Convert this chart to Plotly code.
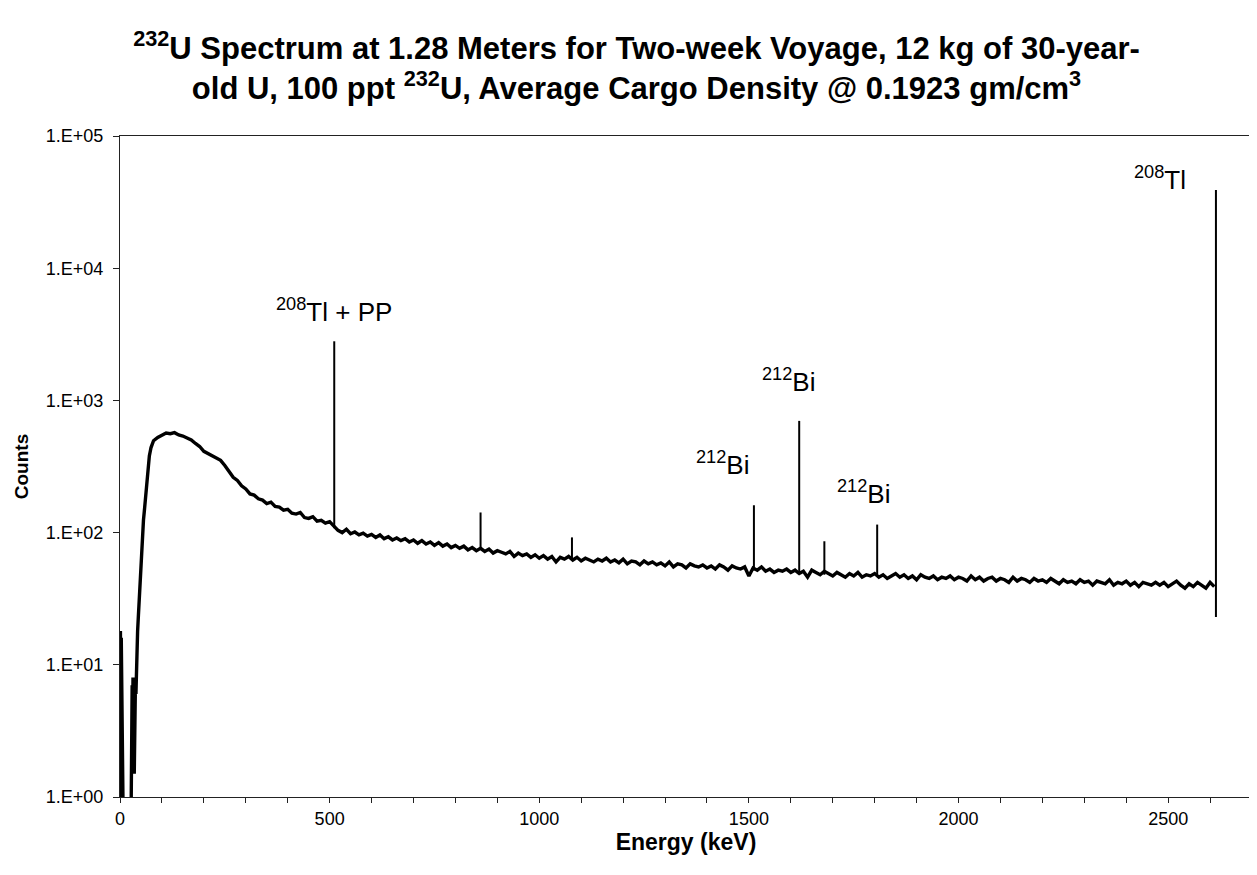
import math
import plotly.graph_objects as go

# ---- data ----
# low-energy part (keV, counts)
low_energy = [0, 1, 2, 3, 4, 5, 6, 7, 8, 26, 27, 28, 29, 30, 31, 32, 33, 34, 35, 36, 37,
              38, 39, 40, 42, 44, 46, 48, 50, 52, 54, 56, 58, 60, 63, 66, 70, 74, 77]
low_counts = [0.5, 18, 5, 16, 3, 12, 0.5, 0.5, 0.5, 0.5, 6, 2, 7, 3, 8, 2, 7, 1.5, 8, 4, 8,
              6, 9, 12, 18, 24, 32, 45, 65, 85, 105, 125, 145, 168, 220, 290, 380, 440, 470]

# continuum from 80 keV to 2610 keV, one reading every 10 keV
cont_start = 80
cont_step = 10
cont_counts = [
    495, 525, 548, 566, 560, 570, 548, 538, 520, 502,
    472, 448, 412, 396, 382, 370, 352, 322, 292, 262,
    248, 226, 214, 196, 192, 180, 176, 166, 170, 158,
    156, 148, 150, 140, 138, 142, 130, 128, 132, 122,
    124, 118, 121, 112, 104, 100, 106, 98, 101, 96,
    99, 94, 97, 92, 96, 90, 93, 88, 91, 87,
    90, 85, 88, 83, 87, 82, 85, 80, 84, 79,
    82, 77, 80, 76, 79, 74, 77, 73, 76, 72,
    75, 70, 73, 71, 69, 72, 66, 70, 67, 69,
    65, 68, 64, 67, 63, 66, 60, 65, 63, 66,
    62, 65, 61, 64, 62, 60, 63, 61, 64, 60,
    62, 59, 63, 58, 61, 60, 57, 61, 58, 60,
    57, 59, 56, 60, 55, 58, 57, 54, 58, 56,
    55, 57, 54, 56, 53, 57, 55, 52, 56, 54,
    53, 55, 47, 54, 52, 55, 51, 53, 50, 52,
    51, 53, 50, 52, 49, 51, 46, 52, 50, 48,
    51, 49, 47, 50, 48, 46, 49, 47, 50, 46,
    48, 47, 49, 46, 48, 45, 47, 49, 46, 48,
    45, 47, 44, 48, 46, 45, 47, 44, 46, 45,
    47, 44, 46, 45, 43, 47, 44, 46, 43, 45,
    46, 43, 45, 44, 42, 46, 43, 45, 44, 42,
    45, 43, 44, 42, 45, 43, 41, 44, 42, 43,
    41, 44, 42, 43, 40, 43, 42, 41, 44, 40,
    42, 41, 43, 40, 42, 39, 42, 41, 40, 42,
    40, 42, 39, 41, 43, 40, 38, 41, 39, 42,
    40, 38, 42, 39,
]

# photopeaks: energy, top of peak, continuum under peak
peak_energy = [511, 860, 1078, 1512, 1620, 1680, 1806, 2614]
peak_top = [2800, 142, 92, 161, 700, 86, 115, 39000]
peak_base = [108, 75, 63, 53, 50, 48, 47, 23]

# peak labels: text, centre energy, centre counts
label_text = ["<sup>208</sup>Tl + PP", "<sup>212</sup>Bi", "<sup>212</sup>Bi",
              "<sup>212</sup>Bi", "<sup>208</sup>Tl"]
label_energy = [511, 1438, 1595, 1774, 2480]
label_counts = [4800, 335, 1420, 200, 48000]

y_ticks = [1, 10, 100, 1000, 10000, 100000]
y_tick_text = ["1.E+00", "1.E+01", "1.E+02", "1.E+03", "1.E+04", "1.E+05"]

# ---- build figure ----
cont_energy = [cont_start + cont_step * i for i in range(len(cont_counts))]
spec_x = low_energy + cont_energy
spec_y = low_counts + cont_counts

px, py = [], []
for e, t, b in zip(peak_energy, peak_top, peak_base):
    px += [e, e, None]
    py += [b, t, None]

FONT = "Arial, Liberation Sans, Helvetica, sans-serif"

fig = go.Figure()
fig.add_trace(go.Scatter(x=spec_x, y=spec_y, mode="lines",
                         line=dict(color="black", width=3.4), showlegend=False,
                         hoverinfo="skip"))
fig.add_trace(go.Scatter(x=px, y=py, mode="lines",
                         line=dict(color="black", width=2), showlegend=False,
                         hoverinfo="skip"))

for txt, e, c in zip(label_text, label_energy, label_counts):
    fig.add_annotation(x=e, y=math.log10(c), text=txt, showarrow=False,
                       xref="x", yref="y", xanchor="center", yanchor="middle",
                       font=dict(family=FONT, size=26, color="black"))

fig.update_layout(
    width=1257, height=875,
    paper_bgcolor="white", plot_bgcolor="white",
    margin=dict(l=112, r=13, t=128, b=86, autoexpand=False),
    title=dict(
        text="<b><sup>232</sup>U Spectrum at 1.28 Meters for Two-week Voyage, 12 kg of 30-year-<br>"
             "old U, 100 ppt <sup>232</sup>U, Average Cargo Density @ 0.1923 gm/cm<sup>3</sup></b>",
        x=0.5, xref="container", xanchor="center",
        y=1 - 51 / 875, yref="container", yanchor="top",
        font=dict(family=FONT, size=31, color="black"),
        automargin=False,
    ),
    font=dict(family=FONT, color="black"),
)
fig.update_xaxes(
    range=[0, 2700], showline=True, linecolor="#222", linewidth=1, mirror=True,
    showgrid=False, zeroline=False, automargin=False,
    tickmode="linear", tick0=0, dtick=500,
    ticks="outside", ticklen=5, tickcolor="#222",
    minor=dict(dtick=100, ticks="outside", ticklen=5, tickcolor="#222", showgrid=False),
    tickfont=dict(family=FONT, size=18, color="black"),
    title=dict(text="<b>Energy (keV)</b>", font=dict(family=FONT, size=23, color="black"),
               standoff=1),
)
fig.update_yaxes(
    type="log", range=[0, 5], showline=True, linecolor="#222", linewidth=1, mirror=True,
    showgrid=False, zeroline=False, automargin=False,
    tickmode="array", tickvals=y_ticks, ticktext=y_tick_text,
    ticks="outside", ticklen=6, tickcolor="#222", ticklabelstandoff=6,
    tickfont=dict(family=FONT, size=18, color="black"),
    title=dict(text="<b>Counts</b>", font=dict(family=FONT, size=19, color="black"),
               standoff=12),
)

fig.write_html("out.html")
